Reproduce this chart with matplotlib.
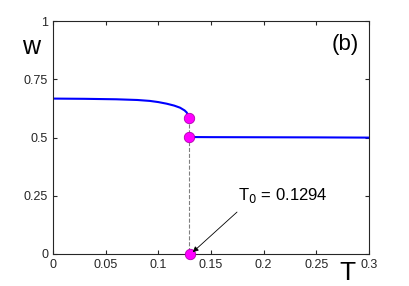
import numpy as np
import matplotlib.pyplot as plt

plt.rcParams['font.family'] = ['Liberation Sans', 'DejaVu Sans']

# upper branch (T < T0)
T_up = [0, 0.03, 0.06, 0.08, 0.092, 0.1, 0.108, 0.115, 0.1206, 0.125, 0.127, 0.1294]
w_up = [0.667, 0.666, 0.664, 0.661, 0.657, 0.652, 0.645, 0.637, 0.628, 0.616, 0.607, 0.585]
# lower branch (T > T0)
T_lo = [0.1294, 0.15, 0.2, 0.25, 0.3]
w_lo = [0.502, 0.5015, 0.501, 0.5005, 0.4995]

T0 = 0.1294
pts_T = [T0, T0, T0 + 0.001]
pts_w = [0.582, 0.502, 0.0]

xticks = [0, 0.05, 0.1, 0.15, 0.2, 0.25, 0.3]
xlabels = ['0', '0.05', '0.1', '0.15', '0.2', '0.25', '0.3']
yticks = [0, 0.25, 0.5, 0.75, 1]
ylabels = ['0', '0.25', '0.5', '0.75', '1']

fig = plt.figure(figsize=(4.09, 2.86), dpi=100)
ax = fig.add_axes([53/409, 1 - 254/286, 316/409, 233/286])

ax.plot(T_up, w_up, color='#0000ff', lw=1.5)
ax.plot(T_lo, w_lo, color='#0000ff', lw=1.5)
ax.plot([T0, T0], [pts_w[0], 0], ls='--', color='#808080', lw=0.8, zorder=1)
ax.plot(pts_T, pts_w, 'o', ms=7.5, mfc='#ff00ff', mec='#b000b0', mew=0.6,
        clip_on=False, zorder=5)

# label and arrow for T0
ax.text(0.1756, 0.232, 'T$_0$ = 0.1294', fontsize=12, color='k',
        ha='left', va='baseline')
ax.annotate('', xy=(0.1327, 0.008), xytext=(0.1747, 0.180),
            arrowprops=dict(arrowstyle='-|>', color='k', lw=0.6,
                            mutation_scale=8, shrinkA=0, shrinkB=0),
            zorder=6)

ax.set_xlim(0, 0.3)
ax.set_ylim(0, 1)
ax.set_xticks(xticks)
ax.set_xticklabels(xlabels)
ax.set_yticks(yticks)
ax.set_yticklabels(ylabels)
ax.tick_params(direction='in', top=True, right=True, labelsize=9,
               labelcolor='#262626', length=3, width=0.8, color='#262626')
for s in ax.spines.values():
    s.set_color('#262626')
    s.set_linewidth(0.8)

fig.text(31/409, 1 - 47/286, 'w', fontsize=18, ha='center', va='center')
fig.text(347/409, 1 - 273/286, 'T', fontsize=19, ha='center', va='center')
fig.text(345/409, 1 - 45/286, '(b)', fontsize=16, ha='center', va='center')

fig.savefig('out.png', dpi=100)
